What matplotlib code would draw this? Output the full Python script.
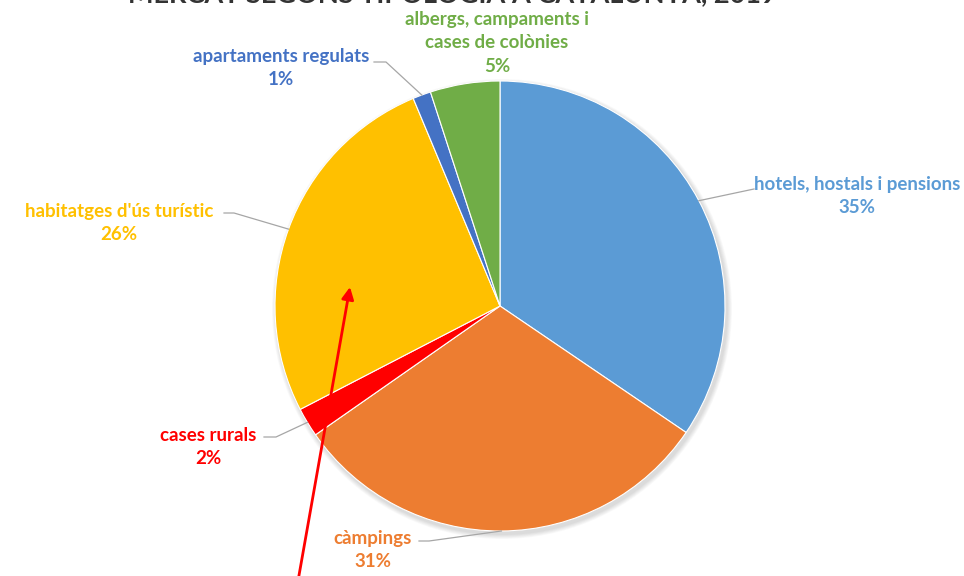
import numpy as np
import matplotlib.pyplot as plt
from matplotlib.patches import Circle

plt.rcParams['font.family'] = ['Lato', 'DejaVu Sans']

# data
categories = ["hotels, hostals i pensions", "càmpings", "cases rurals",
              "habitatges d'ús turístic", "apartaments regulats",
              "albergs, campaments i\ncases de colònies"]
shares = [34.5, 30.8, 2.1, 26.3, 1.3, 5.0]
pct_labels = ["35%", "31%", "2%", "26%", "1%", "5%"]
colors = ["#5B9BD5", "#ED7D31", "#FF0000", "#FFC000", "#4472C4", "#70AD47"]
title = "MERCAT SEGONS TIPOLOGIA A CATALUNYA, 2019"

W, H = 964, 576
fig = plt.figure(figsize=(9.64, 5.76), dpi=100)
ax = fig.add_axes([0, 0, 1, 1])

cx, cy, r = 500, H - 306, 225

# soft shadow
for k in range(6):
    ax.add_patch(Circle((cx + 2, cy - 3), r + 1 + k * 0.8, color='black',
                        alpha=0.025, lw=0, zorder=0))

wedges, _ = ax.pie(shares, colors=colors, startangle=90, counterclock=False,
                   center=(cx, cy), radius=r, frame=True,
                   wedgeprops=dict(edgecolor='white', linewidth=0.8))
ax.set_xlim(0, W)
ax.set_ylim(0, H)
ax.set_aspect('equal')
ax.axis('off')

# label text centres (pixel coords) and leader lines
label_pos = [(857, 196), (373, 550), (208, 447), (119, 223), (281, 68), (497, 43)]
leader_start = [(754, 189), (419, 541), (264, 437), (224, 213), (374, 62), None]
leader_knee = [None, (429, 541), (276, 437), (234, 213), (386, 62), None]

for w, lab, pct, col, lp, ls, lk in zip(wedges, categories, pct_labels, colors,
                                        label_pos, leader_start, leader_knee):
    ang = np.deg2rad((w.theta1 + w.theta2) / 2)
    ex, ey = cx + r * np.cos(ang), cy + r * np.sin(ang)
    ax.text(lp[0], H - lp[1], lab + "\n" + pct, color=col, fontsize=13.5,
            fontweight='bold', ha='center', va='center', linespacing=1.45)
    if ls is not None:
        xs = [ls[0]] + ([lk[0]] if lk else []) + [ex]
        ys = [H - ls[1]] + ([H - lk[1]] if lk else []) + [ey]
        ax.plot(xs, ys, color='#A6A6A6', lw=0.9, zorder=1)

# title, partly cut off at the top as in the source
ax.text(452, H - 2, title, color='#333333', fontsize=19.5, fontweight='bold',
        ha='center', va='baseline', clip_on=False)

# red arrow
ax.annotate("", xy=(350, H - 287), xytext=(298, -5),
            arrowprops=dict(arrowstyle='-|>', color='red', lw=2,
                            mutation_scale=18, shrinkA=0, shrinkB=0))

fig.savefig("out.png", dpi=100)
